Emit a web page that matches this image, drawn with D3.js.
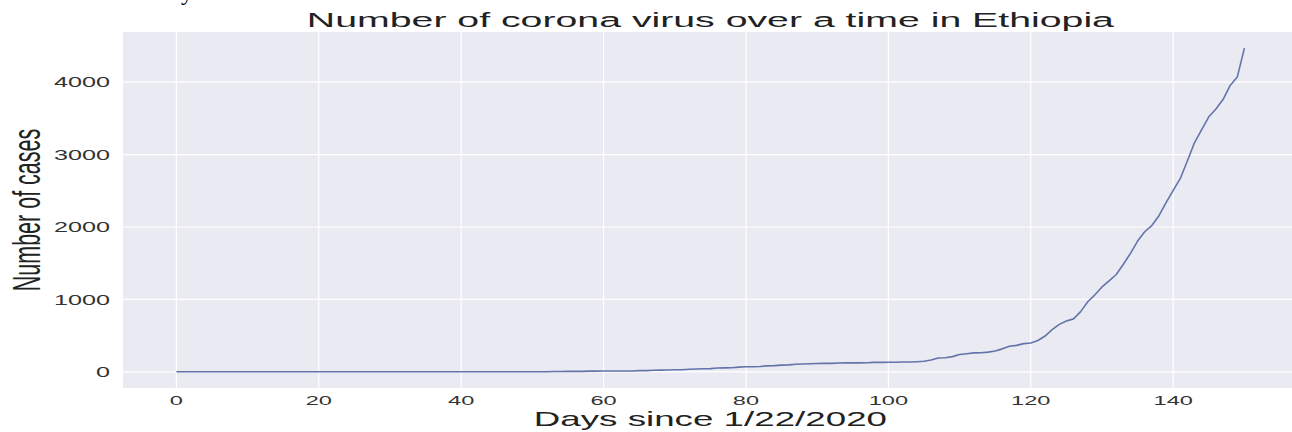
<!DOCTYPE html>
<html>
<head>
<meta charset="utf-8">
<script src="https://cdn.jsdelivr.net/npm/d3@7"></script>
<style>
  html, body { margin: 0; padding: 0; background: #ffffff; overflow: hidden; }
  svg { display: block; }
  text { font-family: "Liberation Sans", Arial, Helvetica, sans-serif; }
</style>
</head>
<body>
<svg id="chart" width="1292" height="432"></svg>
<script>
// ---- data ----
const title = "Number of corona virus over a time in Ethiopia";
const xLabel = "Days since 1/22/2020";
const yLabel = "Number of cases";
const xTicks = [0, 20, 40, 60, 80, 100, 120, 140];
const yTicks = [0, 1000, 2000, 3000, 4000];
const cases = [
  0,0,0,0,0,0,0,0,0,0,
  0,0,0,0,0,0,0,0,0,0,
  0,0,0,0,0,0,0,0,0,0,
  0,0,0,0,0,0,0,0,0,0,
  0,0,0,0,0,0,0,0,0,0,
  0,
  1,1,5,5,6,6,6,9,9,11,
  12,12,12,12,16,16,21,23,26,29,
  29,35,38,43,44,52,55,56,65,69,
  71,74,82,85,92,96,105,108,111,114,
  116,117,122,123,124,124,126,130,131,133,
  133,135,135,140,145,162,191,194,210,239,
  250,261,263,272,287,317,352,365,389,399,
  433,494,582,655,701,731,831,968,1063,1172,
  1257,1344,1486,1636,1805,1934,2020,2156,2336,2506,
  2670,2915,3166,3345,3521,3630,3759,3954,4070,4469
];
const days = cases.map((_, i) => i);

// ---- layout ----
const W = 1292;
const svg = d3.select("#chart");
const plot = { left: 123, top: 32, bottom: 388 };
const nDays = days.length - 1;
const xPad = nDays * 0.05;
const yMax = d3.max(cases);
const yPad = yMax * 0.05;
const pxPerDay = 7.12;
const x = d3.scaleLinear()
  .domain([-xPad, nDays + xPad])
  .range([plot.left, plot.left + (nDays + 2 * xPad) * pxPerDay]);
const y = d3.scaleLinear()
  .domain([-yPad, yMax + yPad])
  .range([plot.bottom, plot.top]);

const sx = 1.75; // horizontal stretch of the text in the reference

// stray fragment of document text at the top
svg.append("text")
  .attr("x", 181).attr("y", 0)
  .attr("font-size", 24)
  .attr("fill", "#000")
  .style("font-family", "'Liberation Serif', serif")
  .text("y");

// background (runs past the right edge of the picture)
svg.append("rect")
  .attr("x", plot.left).attr("y", plot.top)
  .attr("width", W - plot.left + 10)
  .attr("height", plot.bottom - plot.top)
  .attr("fill", "#EAEAF2");

// grid
svg.append("g").selectAll("line").data(xTicks).join("line")
  .attr("x1", d => x(d)).attr("x2", d => x(d))
  .attr("y1", plot.top).attr("y2", plot.bottom)
  .attr("stroke", "#ffffff").attr("stroke-width", 1.2);
svg.append("g").selectAll("line").data(yTicks).join("line")
  .attr("x1", plot.left).attr("x2", W + 10)
  .attr("y1", d => y(d)).attr("y2", d => y(d))
  .attr("stroke", "#ffffff").attr("stroke-width", 1.2);

// line
const line = d3.line().x((d, i) => x(days[i])).y(d => y(d));
svg.append("path")
  .datum(cases)
  .attr("fill", "none")
  .attr("stroke", "#6274aa")
  .attr("stroke-width", 1.6)
  .attr("stroke-linejoin", "round")
  .attr("d", line);

// x tick labels
svg.append("g").selectAll("text").data(xTicks).join("text")
  .attr("transform", d => `translate(${x(d)},405) scale(${sx},1)`)
  .attr("text-anchor", "middle")
  .attr("font-size", 13.5)
  .attr("fill", "#333")
  .text(d => d);

// y tick labels
svg.append("g").selectAll("text").data(yTicks).join("text")
  .attr("transform", d => `translate(110,${y(d) + 5.3}) scale(${sx * 0.96},1)`)
  .attr("text-anchor", "end")
  .attr("font-size", 15)
  .attr("fill", "#333")
  .text(d => d);

const cx = (plot.left + x.range()[1]) / 2;

// title
svg.append("text")
  .attr("transform", `translate(${cx},27) scale(1.87,1)`)
  .attr("text-anchor", "middle")
  .attr("font-size", 21)
  .attr("fill", "#222")
  .text(title);

// x label
svg.append("text")
  .attr("transform", `translate(${cx},426) scale(${sx},1)`)
  .attr("text-anchor", "middle")
  .attr("font-size", 21)
  .attr("fill", "#222")
  .text(xLabel);

// y label
svg.append("text")
  .attr("transform", `translate(40,${(plot.top + plot.bottom) / 2}) rotate(-90) scale(1,1.78)`)
  .attr("text-anchor", "middle")
  .attr("font-size", 21.5)
  .attr("fill", "#222")
  .text(yLabel);
</script>
</body>
</html>
